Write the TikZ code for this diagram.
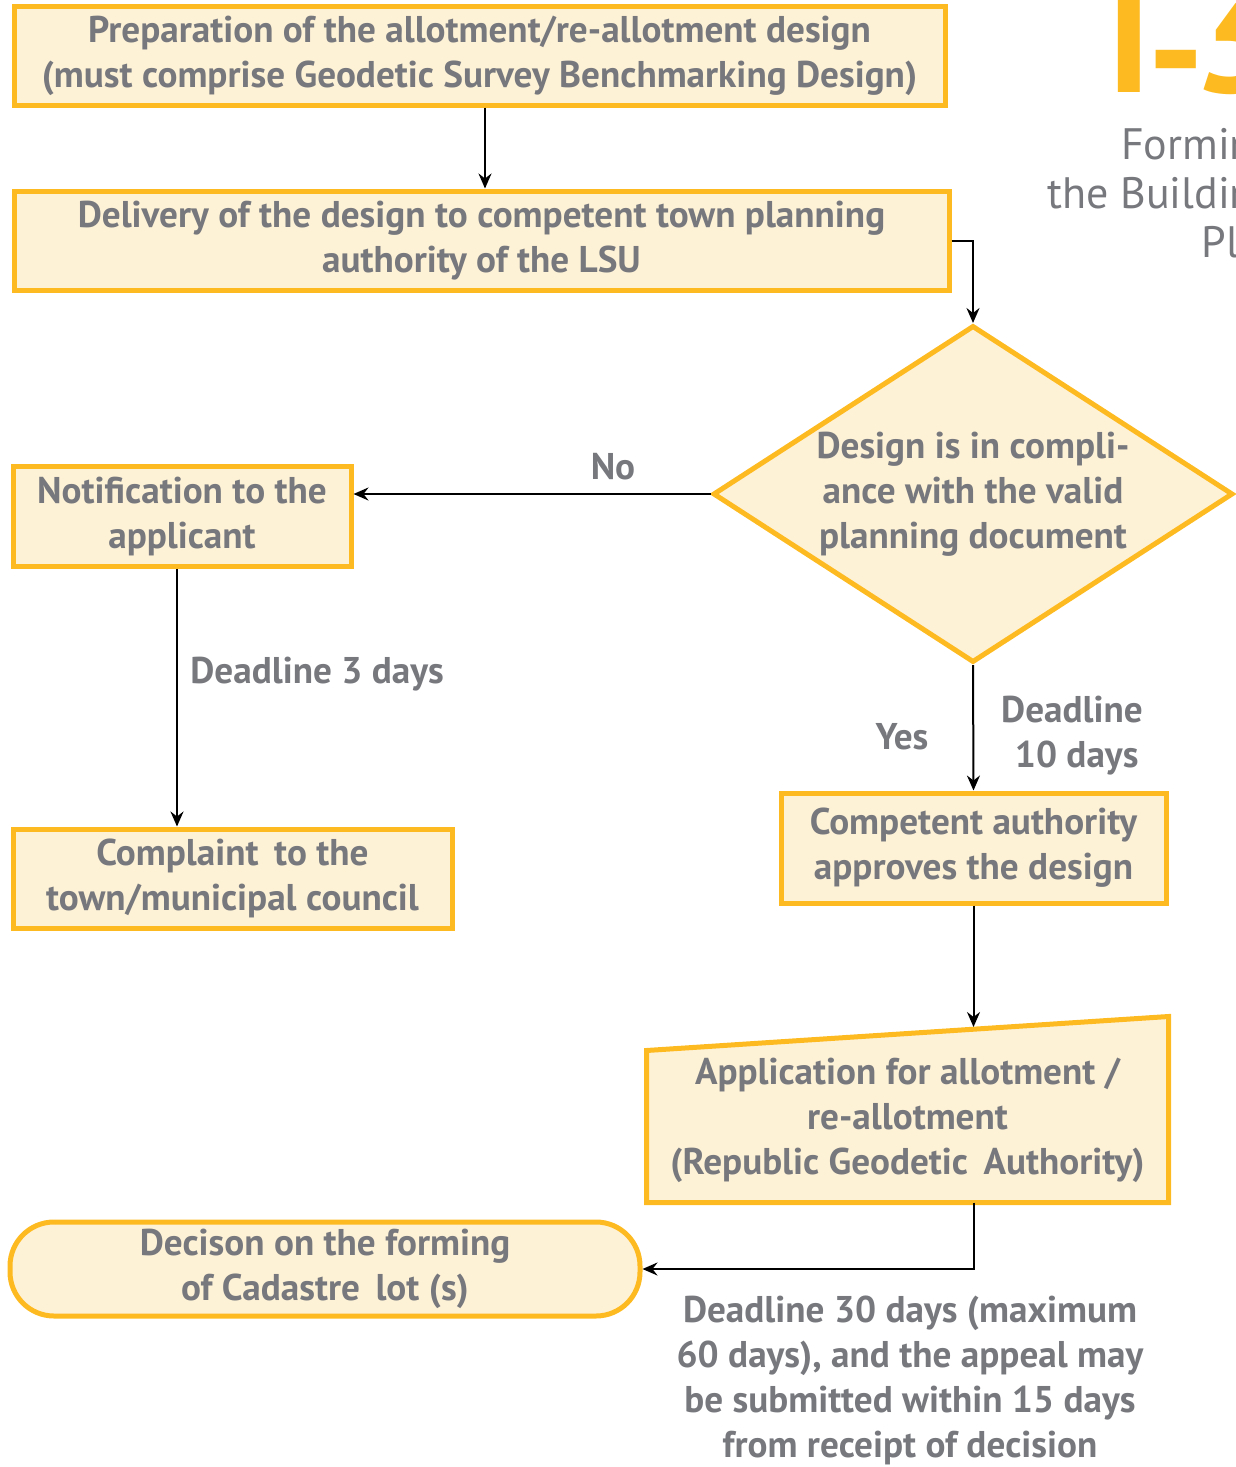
\documentclass[tikz,border=0pt]{standalone}
\usepackage{fontspec}
\setmainfont{PT Sans}
\usetikzlibrary{shapes.geometric,arrows.meta,calc,backgrounds}
\definecolor{frame}{HTML}{FDBB21}
\definecolor{cream}{HTML}{FDF1D6}
\definecolor{ink}{HTML}{76787D}
\newcommand{\boxfont}{\fontsize{18.6}{22.5}\selectfont\bfseries}

\begin{document}
\begin{tikzpicture}[
        x=0.5pt, y=-0.5pt,
        box/.style={draw=frame, fill=cream, line width=2.5pt, inner sep=0pt,
            align=center, text=ink, font=\boxfont},
        check/.style={box, diamond, shape aspect=1.543},
        lbl/.style={text=ink, font=\boxfont, inner sep=0pt},
        forward/.style={-{Stealth[length=7.5pt, width=6.5pt, inset=2.5pt]}, line width=1pt}
    ]
        \useasboundingbox (0,0) rectangle (1236,1467);
        \clip (0,0) rectangle (1236,1467);
        % heading, cut by the page edge
        \node[text=frame, font=\fontsize{80}{80}\selectfont\bfseries, anchor=base west, inner sep=0pt] (num) at (1106, 92)
            {I\kern-2.5pt\raisebox{-6.5pt}{-}\kern-6.5pt3};
        \node[text=ink, font=\fontsize{22}{24.5}\selectfont, align=right, anchor=north east, inner sep=0pt] (head) at (1278, 128) {Forming\\the Building\\Plot};
        % steps
        \node[box, minimum width=465.5pt, minimum height=49.5pt] (prep) at (479.5, 55.5)
            {Preparation of the allotment/re-allotment design\\(must comprise Geodetic Survey Benchmarking Design)};
        \node[box, minimum width=467.5pt, minimum height=49.5pt] (deliv) at (481.5, 240.5)
            {Delivery of the design to competent town planning\\authority of the LSU};
        \node[check, minimum width=260pt, minimum height=168.5pt] (plan) at (973, 494)
            {Design is in compli-\\ance with the valid\\planning document};
        \node[box, minimum width=169pt, minimum height=50pt] (notif) at (182, 516)
            {Notification to the\\applicant};
        \node[box, minimum width=219.5pt, minimum height=49.5pt] (compl) at (232.5, 878.5)
            {Complaint\, to the\\town/municipal council};
        \node[box, minimum width=192.5pt, minimum height=55pt] (appr) at (973.5, 848)
            {Competent authority\\approves the design};
        \node[box, draw=none, fill=none, minimum width=258.5pt, minimum height=79.5pt] (apply) at (907.5, 1120.5)
            {Application for allotment /\\re-allotment\\(Republic Geodetic\, Authority)};
        \node[box, rounded corners=22pt, minimum width=315pt, minimum height=47pt] (decis) at (325, 1269)
            {Decison on the forming\\of Cadastre\, lot (s)};
        % manual input outline behind the text
        \begin{scope}[on background layer]
            \draw[frame, fill=cream, line width=2.5pt] (apply.south west) -- ([yshift=-6pt]apply.north west)
                -- ([yshift=11pt]apply.north east) -- (apply.south east) -- cycle;
        \end{scope}
        \coordinate (applytop) at (973.5, 1027);
        % labels
        \node[lbl] (no) at (613, 467) {No};
        \node[lbl] (yes) at (902, 737) {Yes};
        \node[lbl, anchor=west] (d3) at (190, 674) {Deadline 3 days};
        \node[lbl, align=center] (d10) at (1072, 736) {Deadline\\\ 10 days};
        \node[lbl, align=center] (d30) at (910, 1380)
            {Deadline 30 days (maximum\\60 days), and the appeal may\\be submitted within 15 days\\from receipt of decision};
        % connectors
        \draw[forward] (prep.south -| 485,0) -- (deliv.north -| 485,0);
        \draw[forward] (deliv.east) -| (plan.north);
        \draw[forward] (plan.west) -- (plan.west -| notif.east);
        \draw[forward] (notif.south -| 177,0) -- (compl.north -| 177,0);
        \draw[forward] (plan.south) -- (appr.north);
        \draw[forward] (appr.south) -- (applytop);
        \draw[forward] (appr.south |- apply.south) |- (decis.east);
    \end{tikzpicture}
\end{document}
